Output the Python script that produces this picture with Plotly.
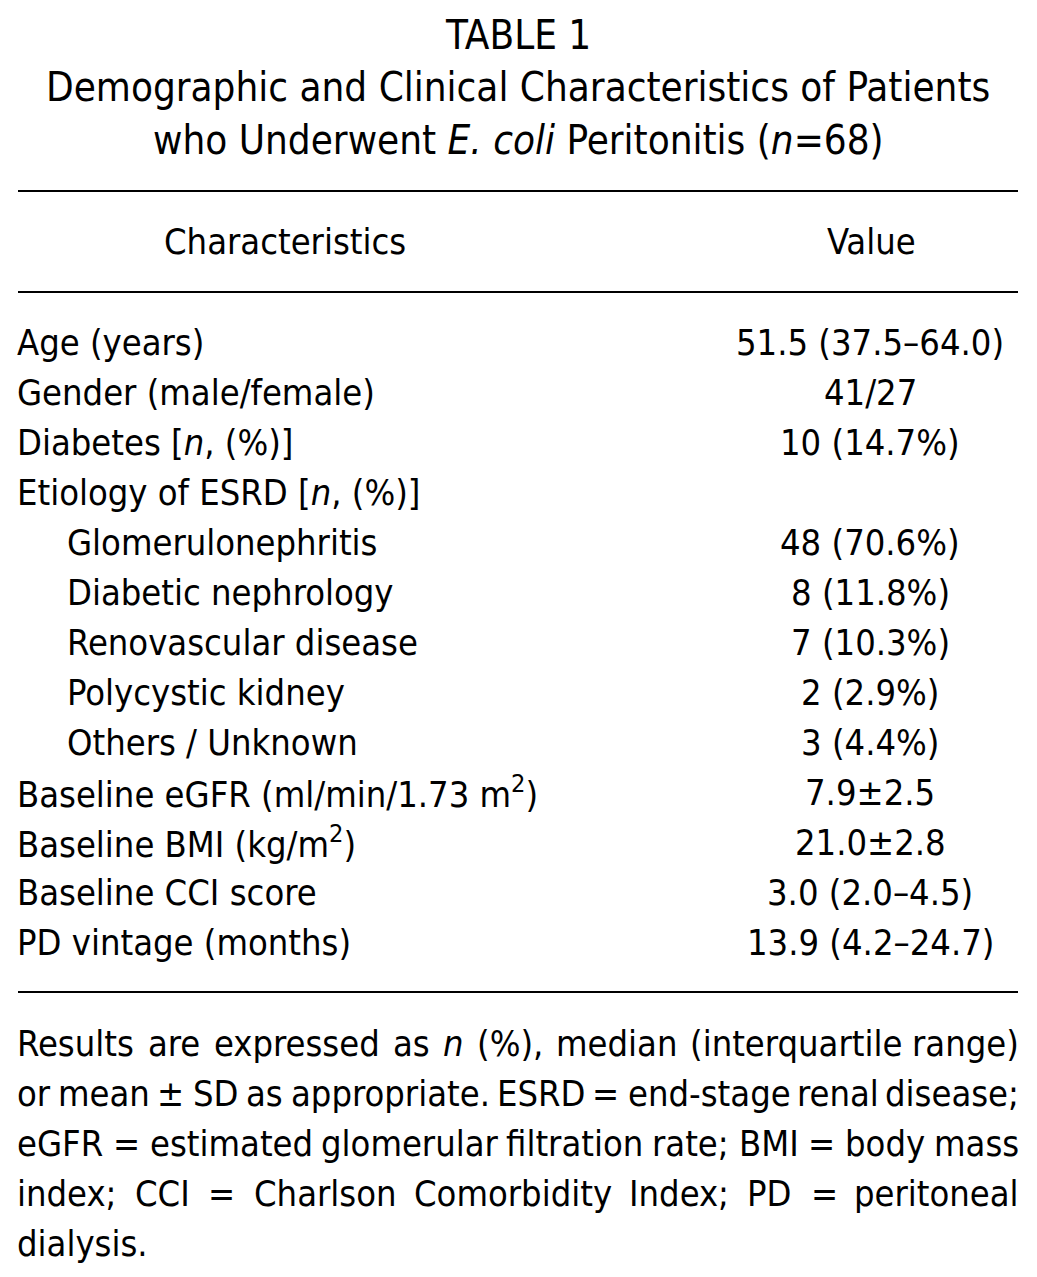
import plotly.graph_objects as go

W, H = 1037, 1277
OFF = 8  # default page body margin

title_lines = [
    "TABLE 1",
    "Demographic and Clinical Characteristics of Patients",
    "who Underwent <i>E. coli</i> Peritonitis (<i>n</i>=68)",
]
header = ["Characteristics", "Value"]
characteristics = [
    "Age (years)",
    "Gender (male/female)",
    "Diabetes [<i>n</i>, (%)]",
    "Etiology of ESRD [<i>n</i>, (%)]",
    "Glomerulonephritis",
    "Diabetic nephrology",
    "Renovascular disease",
    "Polycystic kidney",
    "Others / Unknown",
    "Baseline eGFR (ml/min/1.73 m<sup>2</sup>)",
    "Baseline BMI (kg/m<sup>2</sup>)",
    "Baseline CCI score",
    "PD vintage (months)",
]
indent = [0, 0, 0, 0, 1, 1, 1, 1, 1, 0, 0, 0, 0]
values = [
    "51.5 (37.5–64.0)",
    "41/27",
    "10 (14.7%)",
    "",
    "48 (70.6%)",
    "8 (11.8%)",
    "7 (10.3%)",
    "2 (2.9%)",
    "3 (4.4%)",
    "7.9±2.5",
    "21.0±2.8",
    "3.0 (2.0–4.5)",
    "13.9 (4.2–24.7)",
]
footnote = [
    "Results are expressed as <i>n</i> (%), median (interquartile range)",
    "or mean ± SD as appropriate. ESRD = end-stage renal disease;",
    "eGFR = estimated glomerular filtration rate; BMI = body mass",
    "index; CCI = Charlson Comorbidity Index; PD = peritoneal",
    "dialysis.",
]

FONT = "DejaVu Sans Condensed, DejaVu Sans, sans-serif"
FS_TITLE = 40
FS = 36
FS_FOOT = 36
col = "black"

# approximate DejaVu Sans advance widths (units per em = 2048); condensed ~0.89x
CW = {' ': 651, 'a': 1255, 'b': 1300, 'c': 1126, 'd': 1300, 'e': 1260, 'f': 721,
      'g': 1300, 'h': 1298, 'i': 569, 'j': 569, 'k': 1186, 'l': 569, 'm': 1995,
      'n': 1298, 'o': 1253, 'p': 1300, 'q': 1300, 'r': 842, 's': 1067, 't': 803,
      'u': 1298, 'v': 1212, 'w': 1675, 'x': 1212, 'y': 1212, 'z': 1075,
      'A': 1401, 'B': 1405, 'C': 1430, 'D': 1577, 'E': 1294, 'F': 1178, 'G': 1587,
      'H': 1540, 'I': 604, 'M': 1767, 'P': 1235, 'R': 1423, 'S': 1300,
      '=': 1716, ';': 690, '.': 651, ',': 651, '(': 799, ')': 799, '%': 1946,
      '±': 1716, '-': 739}
COND = 0.888


def text_width(s, size):
    s = s.replace("<i>", "").replace("</i>", "")
    return sum(CW.get(ch, 1250) for ch in s) / 2048.0 * size * COND


fig = go.Figure()
ann = []


def add(text, x, y, xanchor="left", size=FS):
    ann.append(dict(text=text, x=x, y=y, xref="x", yref="y", xanchor=xanchor,
                    yanchor="middle", showarrow=False,
                    font=dict(family=FONT, size=size, color=col)))


title_y = [35, 87, 140]
for t, y in zip(title_lines, title_y):
    add(t, 518, y, "center", FS_TITLE)

add(header[0], 285, 241, "center")
add(header[1], 871, 241, "center")

LEFT, RIGHT = 15, 1021
row_y0, row_dy = 342, 50
for i, (c, ind, v) in enumerate(zip(characteristics, indent, values)):
    y = row_y0 + i * row_dy
    add(c, LEFT + 50 * ind, y, "left")
    if v:
        add(v, 870, y, "center")

# footnote: justified lines built word by word
foot_y0, foot_dy = 1043, 50
for i, line in enumerate(footnote):
    y = foot_y0 + i * foot_dy
    if i == len(footnote) - 1:
        add(line, LEFT, y, "left", FS_FOOT)
        continue
    words = line.split(" ")
    widths = [text_width(w, FS_FOOT) + 4 for w in words]
    gap = (RIGHT - LEFT - sum(widths)) / (len(words) - 1)
    x = LEFT
    for j, (w, wd) in enumerate(zip(words, widths)):
        if j == len(words) - 1:
            add(w, RIGHT, y, "right", FS_FOOT)
        else:
            add(w, x, y, "left", FS_FOOT)
        x += wd + gap

shapes = []
for y in [191, 292, 992]:
    shapes.append(dict(type="line", xref="x", yref="y", x0=18, x1=1018, y0=y, y1=y,
                       line=dict(color="black", width=2)))

fig.update_layout(
    width=W, height=H,
    margin=dict(l=0, r=0, t=0, b=0),
    paper_bgcolor="white", plot_bgcolor="white",
    xaxis=dict(range=[OFF, W + OFF], visible=False, fixedrange=True),
    yaxis=dict(range=[H + OFF, OFF], visible=False, fixedrange=True),
    annotations=ann, shapes=shapes, showlegend=False,
)
fig.write_html("out.html")
